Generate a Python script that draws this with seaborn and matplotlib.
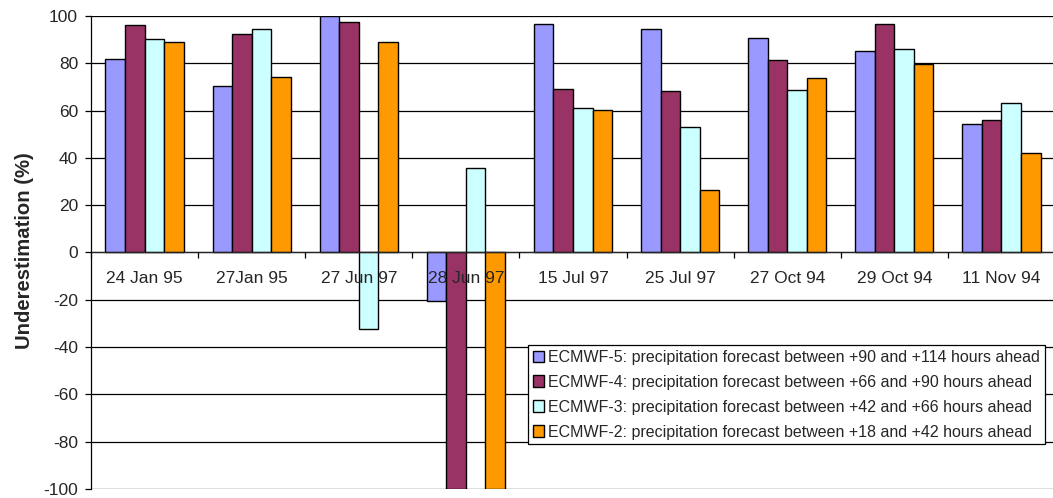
import matplotlib
matplotlib.use("Agg")
import matplotlib.pyplot as plt
import numpy as np
import pandas as pd
import seaborn as sns

# Storm events
events = ["24 Jan 95", "27Jan 95", "27 Jun 97", "28 Jun 97", "15 Jul 97",
          "25 Jul 97", "27 Oct 94", "29 Oct 94", "11 Nov 94"]

# Underestimation of precipitation (%) per forecast range
ecmwf5 = [82, 70.6, 100, -20.3, 96.7, 94.6, 90.8, 85.4, 54.5]
ecmwf4 = [96.1, 92.3, 97.3, -100, 69.2, 68.1, 81.6, 96.8, 56.2]
ecmwf3 = [90.2, 94.4, -32.3, 35.9, 61.2, 52.9, 68.9, 86.0, 63.3]
ecmwf2 = [88.9, 74.4, 89.2, -100, 60.2, 26.6, 73.7, 79.9, 42.0]

series_labels = [
    "ECMWF-5: precipitation forecast between +90 and +114 hours ahead",
    "ECMWF-4: precipitation forecast between +66 and +90 hours ahead",
    "ECMWF-3: precipitation forecast between +42 and +66 hours ahead",
    "ECMWF-2: precipitation forecast between +18 and +42 hours ahead",
]
series_colors = ["#9999FF", "#993366", "#CCFFFF", "#FF9900"]

y_ticks = [-100, -80, -60, -40, -20, 0, 20, 40, 60, 80, 100]

rows = []
for label, values in zip(series_labels, [ecmwf5, ecmwf4, ecmwf3, ecmwf2]):
    for ev, v in zip(events, values):
        rows.append({"event": ev, "series": label, "value": v})
df = pd.DataFrame(rows)

sns.set_style("white")
plt.rcParams["font.family"] = ["Liberation Sans", "DejaVu Sans"]

W, H = 1053, 498
fig = plt.figure(figsize=(W / 100, H / 100), dpi=100)
ax = fig.add_axes([91 / W, 1 - 489 / H, (1055 - 91) / W, (489 - 16) / H])

# horizontal gridlines sit behind the bars
for t in y_ticks:
    ax.axhline(t, color="black", linewidth=0.9, zorder=1)

sns.barplot(data=df, x="event", y="value", hue="series", order=events,
            hue_order=series_labels, palette=series_colors, width=0.73,
            edgecolor="black", linewidth=1.0, saturation=1, ax=ax, zorder=2,
            errorbar=None)

ax.set_xlim(-0.5, len(events) - 0.5)
ax.set_ylim(-100, 100)
ax.set_yticks(y_ticks)
ax.set_yticklabels([str(t) for t in y_ticks], fontsize=12.5)
ax.grid(False)
ax.set_axisbelow(False)

# category axis sits on the zero line: boundary ticks, centred labels
ax.spines["bottom"].set_position(("data", 0))
ax.spines["bottom"].set_linewidth(0.9)
ax.spines["top"].set_visible(False)
ax.spines["right"].set_visible(False)
ax.spines["left"].set_color("black")
ax.spines["left"].set_linewidth(0.9)
ax.set_xticks(np.arange(len(events) + 1) - 0.5)
ax.set_xticklabels([])
ax.set_xticks(np.arange(len(events)), minor=True)
ax.set_xticklabels(events, minor=True, fontsize=12.5)
ax.tick_params(axis="x", which="major", direction="out", length=4.5,
               width=0.9, color="black", bottom=True)
ax.tick_params(axis="x", which="minor", length=0, pad=13)
ax.tick_params(axis="y", direction="out", length=4.3, width=0.9,
               color="black", left=True, pad=5)
ax.set_xlabel("")
ax.set_ylabel("Underestimation (%)", fontsize=14.6, fontweight="bold")
ax.yaxis.set_label_coords(34 / W, 0.5, transform=fig.transFigure)
ax.yaxis.label.set_y(1 - 251 / H)

leg = ax.legend(loc="upper left", bbox_to_anchor=(528 / W, 1 - 345 / H),
                bbox_transform=fig.transFigure, borderaxespad=0,
                fancybox=False, framealpha=1, edgecolor="black",
                fontsize=11.5, handlelength=0.72, handleheight=0.72,
                handletextpad=0.25, borderpad=0.3, labelspacing=0.62,
                title=None)
leg.get_frame().set_linewidth(0.9)
leg.set_zorder(5)

fig.savefig("out.png", dpi=100)
